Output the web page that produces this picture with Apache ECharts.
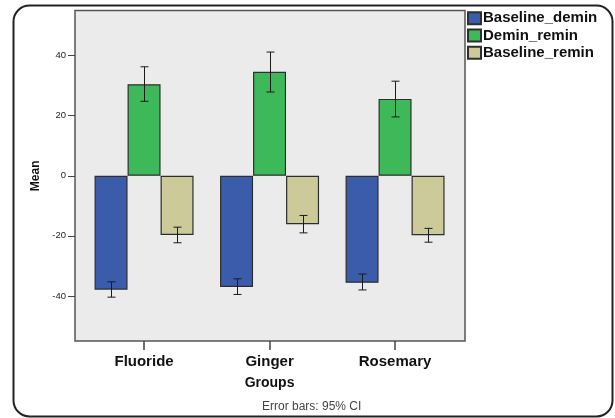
<!DOCTYPE html>
<html><head><meta charset="utf-8">
<script src="https://cdn.jsdelivr.net/npm/echarts@6/dist/echarts.min.js"></script>
<style>html,body{margin:0;padding:0;background:#fff}#c{width:615px;height:418px}</style>
</head><body><div id="c"></div>
<script>
const categories = ['Fluoride', 'Ginger', 'Rosemary'];
const seriesNames = ['Baseline_demin', 'Demin_remin', 'Baseline_remin'];
const baselineDemin = [-37.9, -37.0, -35.6];
const deminRemin = [30.5, 34.6, 25.6];
const baselineRemin = [-19.7, -16.1, -19.8];
const baselineDeminCI = [[-40.4, -35.3], [-39.5, -34.3], [-38.0, -32.7]];
const deminReminCI = [[24.8, 36.3], [27.9, 41.2], [19.6, 31.5]];
const baselineReminCI = [[-22.3, -17.1], [-19.0, -13.2], [-22.1, -17.5]];
const yTicks = [-40, -20, 0, 20, 40];

const colors = ['#3a5caa', '#3db95a', '#cbca98'];
const BW = 33;
const values = [baselineDemin, deminRemin, baselineRemin];
const cis = [baselineDeminCI, deminReminCI, baselineReminCI];

const chart = echarts.init(document.getElementById('c'));
const ff = 'Liberation Sans, Arial, sans-serif';

const barSeries = values.map((v, i) => ({
  type: 'bar', name: seriesNames[i], xAxisIndex: 1, yAxisIndex: 1,
  data: v, barWidth: BW, barGap: '0%', z: 2,
  itemStyle: { color: colors[i], borderColor: '#2e2e2e', borderWidth: 1.2 },
  emphasis: { disabled: true }, animation: false
}));

const errSeries = cis.map((ci, i) => ({
  type: 'custom', xAxisIndex: 1, yAxisIndex: 1, animation: false, silent: true, z: 5,
  data: ci.map((c, k) => [k, c[0], c[1]]),
  renderItem: function (params, api) {
    const k = api.value(0);
    const lo = api.coord([k, api.value(1)]);
    const hi = api.coord([k, api.value(2)]);
    const x = Math.round(lo[0] + (i - 1) * BW) + 0.5;
    const cap = 4;
    const st = { stroke: '#1a1a1a', lineWidth: 1, fill: null };
    return { type: 'group', children: [
      { type: 'line', shape: { x1: x, y1: lo[1], x2: x, y2: hi[1] }, style: st },
      { type: 'line', shape: { x1: x - cap, y1: lo[1], x2: x + cap, y2: lo[1] }, style: st },
      { type: 'line', shape: { x1: x - cap, y1: hi[1], x2: x + cap, y2: hi[1] }, style: st }
    ]};
  }
}));

chart.setOption({
  backgroundColor: '#fff',
  animation: false,
  graphic: [{
    type: 'rect', shape: { x: 13.5, y: 5.5, width: 599, height: 411, r: 16 },
    style: { fill: null, stroke: '#222', lineWidth: 2 }, silent: true
  }, {
    type: 'text', left: 262, top: 401,
    style: { text: 'Error bars: 95% CI', fill: '#444', font: '12px ' + ff }
  }],
  legend: {
    data: seriesNames, orient: 'vertical', left: 467, top: 10.7, padding: 0,
    icon: 'rect',
    itemWidth: 13, itemHeight: 12, itemGap: 2.3,
    textStyle: { fontFamily: ff, fontSize: 15, fontWeight: 'bold', color: '#111', lineHeight: 15, padding: [0, 0, 0, -3] },
    selectedMode: false
  },
  grid: [
    { left: 75, top: 10.6, width: 390, height: 330.4, show: true, backgroundColor: '#ebebeb', borderColor: '#555', borderWidth: 1.5 },
    { left: 81.3, top: 10.6, width: 376.5, height: 330.4 }
  ],
  xAxis: [
    { gridIndex: 0, type: 'value', show: false, min: 0, max: 1 },
    { gridIndex: 1, type: 'category', data: categories,
      axisLine: { show: false, onZero: false },
      axisTick: { show: true, alignWithLabel: true, length: 9, lineStyle: { color: '#444', width: 1.5 } },
      axisLabel: { margin: 13, fontFamily: ff, fontSize: 15, fontWeight: 'bold', color: '#111' },
      name: 'Groups', nameLocation: 'middle', nameGap: 35,
      nameTextStyle: { fontFamily: ff, fontSize: 14, fontWeight: 'bold', color: '#111' }
    }
  ],
  yAxis: [
    { gridIndex: 0, type: 'value', min: -55, max: 55,
      splitLine: { show: false },
      axisLine: { show: false },
      axisTick: { show: true, length: 7, customValues: yTicks, lineStyle: { color: '#444' } },
      axisLabel: { customValues: yTicks, margin: 9, fontFamily: ff, fontSize: 9.5, color: '#222' },
      name: 'Mean', nameLocation: 'middle', nameGap: 33, nameRotate: 90,
      nameTextStyle: { fontFamily: ff, fontSize: 12, fontWeight: 'bold', color: '#111' }
    },
    { gridIndex: 1, type: 'value', min: -55, max: 55, show: false }
  ],
  series: barSeries.concat(errSeries)
});
</script></body></html>
